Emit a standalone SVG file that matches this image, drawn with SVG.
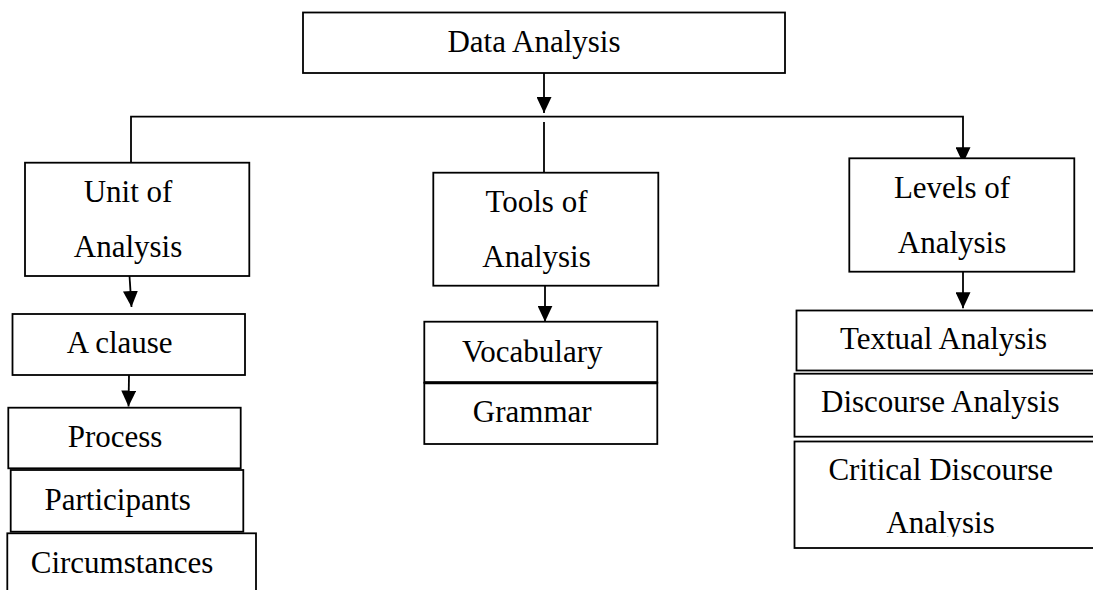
<svg xmlns="http://www.w3.org/2000/svg" width="1093" height="590" viewBox="0 0 1093 590">
<style>
.box{fill:#fff;stroke:#000;stroke-width:1.8}
.t{font-family:"Liberation Serif","Times New Roman",serif;font-size:31px;fill:#000;text-anchor:middle}
.c{fill:none;stroke:#000;stroke-width:1.8}
</style>
<defs>
<marker id="ah" markerUnits="userSpaceOnUse" markerWidth="16" markerHeight="15" refX="16" refY="7.5" orient="auto">
<path d="M0,0 L16,7.5 L0,15 z" fill="#000"/>
</marker>
<clipPath id="clipCrit"><rect x="790" y="440" width="303" height="96.7"/></clipPath>
</defs>
<rect width="1093" height="590" fill="#fff"/>
<g id="connectors">
<path class="c" d="M544,73 V113" marker-end="url(#ah)"/>
<path class="c" d="M131,162.7 V116.7 H963 V163.3" marker-end="url(#ah)"/>
<path class="c" d="M544,122 V172.7"/>
<path class="c" d="M129.5,276 L131.5,307" marker-end="url(#ah)"/>
<path class="c" d="M129,375 L128.5,406.5" marker-end="url(#ah)"/>
<path class="c" d="M545,285.7 V321.7" marker-end="url(#ah)"/>
<path class="c" d="M963,271.7 V308.3" marker-end="url(#ah)"/>
</g>
<g id="data-analysis">
<rect class="box" x="303" y="12.5" width="482" height="60.5"/>
<text class="t" x="534" y="51.7">Data Analysis</text>
</g>
<g id="unit-of-analysis">
<rect class="box" x="25" y="162.7" width="224.3" height="113.3"/>
<text class="t" x="128" y="202.3">Unit of</text>
<text class="t" x="128" y="257.3">Analysis</text>
</g>
<g id="tools-of-analysis">
<rect class="box" x="433.3" y="172.7" width="225" height="113"/>
<text class="t" x="536.5" y="211.7">Tools of</text>
<text class="t" x="536.5" y="266.7">Analysis</text>
</g>
<g id="levels-of-analysis">
<rect class="box" x="849.3" y="158.3" width="225" height="113.4"/>
<text class="t" x="952" y="197.7">Levels of</text>
<text class="t" x="952" y="252.7">Analysis</text>
</g>
<g id="a-clause">
<rect class="box" x="12.5" y="314" width="232.5" height="61"/>
<text class="t" x="119.7" y="353">A clause</text>
</g>
<g id="process">
<rect class="box" x="8.3" y="407.7" width="232.4" height="60.6"/>
<text class="t" x="115" y="446.7">Process</text>
</g>
<g id="participants">
<rect class="box" x="10.7" y="470" width="232.6" height="61.7"/>
<text class="t" x="117.7" y="510">Participants</text>
</g>
<g id="circumstances">
<rect class="box" x="7.3" y="533.3" width="248.7" height="100"/>
<text class="t" x="122" y="573.3">Circumstances</text>
</g>
<g id="vocabulary">
<rect class="box" x="424.3" y="321.7" width="233" height="61"/>
<text class="t" x="532.2" y="361.7">Vocabulary</text>
</g>
<g id="grammar">
<rect class="box" x="424.3" y="382.7" width="233" height="61.3"/>
<line x1="424.3" y1="382.7" x2="657.3" y2="382.7" stroke="#000" stroke-width="3"/>
<text class="t" x="532.2" y="421.7">Grammar</text>
</g>
<g id="textual-analysis">
<rect class="box" x="796.5" y="310.5" width="320" height="60"/>
<text class="t" x="943.5" y="349">Textual Analysis</text>
</g>
<g id="discourse-analysis">
<rect class="box" x="794.5" y="373.7" width="320" height="63"/>
<text class="t" x="940.3" y="411.7">Discourse Analysis</text>
</g>
<g id="critical-discourse-analysis">
<rect class="box" x="794.5" y="441.5" width="320" height="106.5"/>
<text class="t" x="940.8" y="480">Critical Discourse</text>
<text class="t" x="940.5" y="533.3" clip-path="url(#clipCrit)">Analysis</text>
</g>
</svg>
